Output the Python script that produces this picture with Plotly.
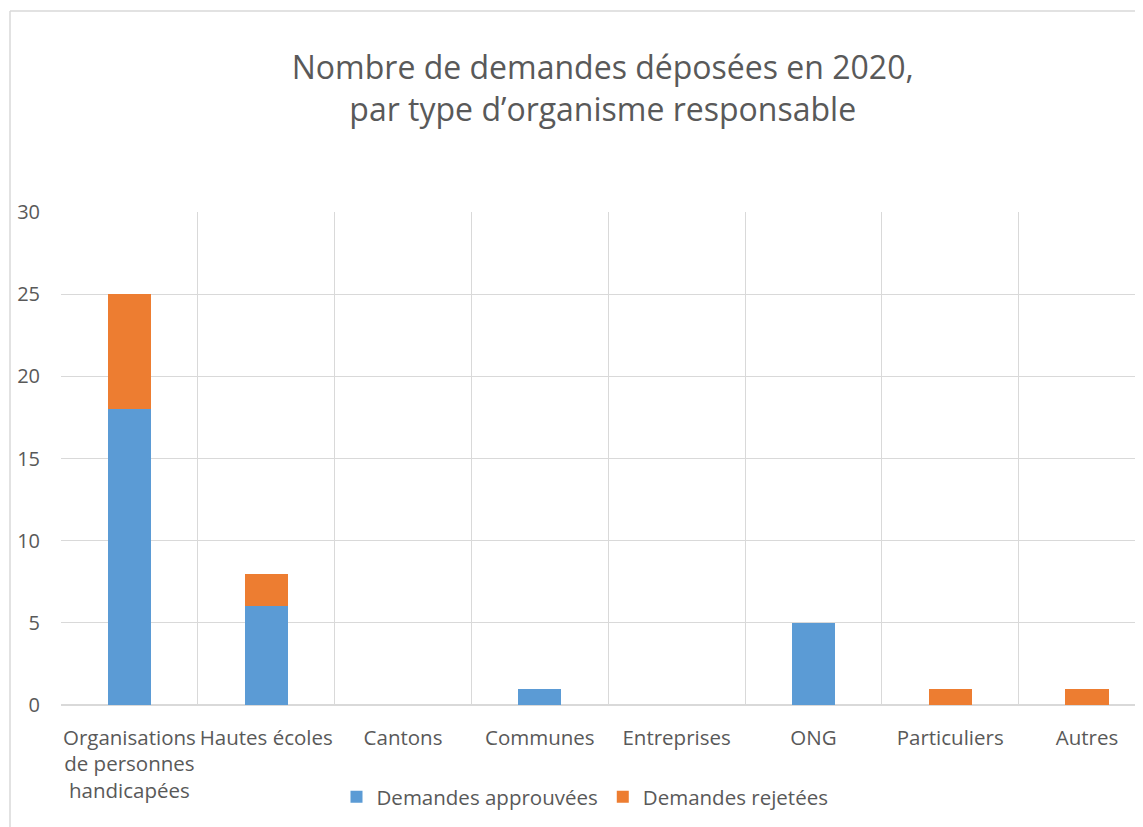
import plotly.graph_objects as go

categories = ["Organisations<br>de personnes<br>handicapées", "Hautes écoles", "Cantons",
              "Communes", "Entreprises", "ONG", "Particuliers", "Autres"]
approved = [18, 6, 0, 1, 0, 5, 0, 0]
rejected = [7, 2, 0, 0, 0, 0, 1, 1]
y_ticks = [0, 5, 10, 15, 20, 25, 30]

FONT = "Open Sans"
GREY_TXT = "#595959"
GRID = "#D9D9D9"

# page body has an 8px margin, so the figure is sized to fit the window
W, H = 1135, 819
L, R, T, B = 53, 0, 204, 122
pw = W - L - R
ph = H - T - B

xpos = list(range(len(categories)))

fig = go.Figure()
fig.add_trace(go.Bar(x=xpos, y=approved, name="Demandes approuvées",
                     marker=dict(color="#5B9BD5", line=dict(width=0)), width=0.315))
fig.add_trace(go.Bar(x=xpos, y=rejected, name="Demandes rejetées",
                     marker=dict(color="#ED7D31", line=dict(width=0)), width=0.315))

cat_w = 136.8
x_right = -0.5 + pw / cat_w

def px2paper_x(px):
    return (px - L) / pw

def px2paper_y(py):
    return (H - B - py) / ph

fig.update_layout(
    width=W, height=H,
    margin=dict(l=L, r=R, t=T, b=B, pad=0),
    barmode="stack",
    paper_bgcolor="white", plot_bgcolor="white",
    font=dict(family=FONT, color=GREY_TXT, size=20),
    title=dict(text="Nombre de demandes déposées en 2020,<br>par type d’organisme responsable",
               x=0.524, xref="container", xanchor="center",
               y=1 - 71 / H, yref="container", yanchor="top",
               font=dict(family=FONT, size=32, color=GREY_TXT)),
    showlegend=True,
    legend=dict(orientation="h", x=px2paper_x(577), xanchor="center",
                y=px2paper_y(789), yanchor="middle",
                font=dict(family=FONT, size=20.5, color=GREY_TXT),
                traceorder="normal", itemclick=False),
    xaxis=dict(range=[-0.5, x_right], tickvals=xpos, ticktext=categories,
               showgrid=False, zeroline=False, showline=False, ticks="",
               ticklabelstandoff=18, tickangle=0,
               tickfont=dict(family=FONT, size=20.5, color=GREY_TXT),
               minor=dict(tickvals=[i - 0.5 for i in range(len(categories) + 1)],
                          showgrid=True, gridcolor=GRID, gridwidth=1.3, ticks="")),
    yaxis=dict(range=[0, 30], tickvals=y_ticks, showgrid=True, gridcolor=GRID,
               gridwidth=1.3, zeroline=True, zerolinecolor=GRID, zerolinewidth=1.5,
               showline=False, ticks="", ticklabelstandoff=20,
               tickfont=dict(family=FONT, size=20, color=GREY_TXT)),
    hovermode=False,
)

# chart-area border (left and top edges visible in the crop)
fig.add_shape(type="line", xref="paper", yref="paper",
              x0=px2paper_x(2), x1=px2paper_x(2), y0=px2paper_y(3), y1=px2paper_y(H + 5),
              line=dict(color=GRID, width=1.5))
fig.add_shape(type="line", xref="paper", yref="paper",
              x0=px2paper_x(2), x1=px2paper_x(W + 5), y0=px2paper_y(3), y1=px2paper_y(3),
              line=dict(color=GRID, width=1.5))

fig.write_html("out.html")
